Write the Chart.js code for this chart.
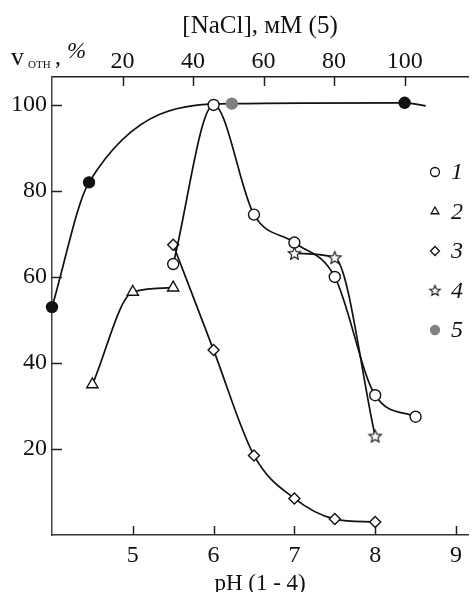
<!DOCTYPE html>
<html>
<head>
<meta charset="utf-8">
<script src="https://cdn.jsdelivr.net/npm/chart.js@4/dist/chart.umd.min.js"></script>
<style>
  body { margin: 0; background: #fff; }
  canvas { display: block; }
</style>
</head>
<body>
<canvas id="grafico" width="476" height="592"></canvas>
<script>
// curvas 1-4: pH (eje inferior)
const phCurva1 = [5.5, 6, 6.5, 7, 7.5, 8, 8.5];
const vCurva1  = [63, 100, 74.5, 68, 60, 32.5, 27.5];
const phCurva2 = [4.5, 5, 5.5];
const vCurva2  = [35, 56.5, 57.5];
const phCurva3 = [5.5, 6, 6.5, 7, 7.5, 8];
const vCurva3  = [67.5, 43, 18.5, 8.5, 3.7, 3];
const phCurva4 = [7, 7.5, 8];
const vCurva4  = [65.5, 64.5, 23];
// curva 5: [NaCl] mM (eje superior), el ultimo punto es solo el final de la linea
const naclCurva5 = [0, 10.5, 51, 100, 106];
const vCurva5    = [53, 82, 100.3, 100.5, 99.8];

const ticksPH   = [5, 6, 7, 8, 9];
const ticksNaCl = [20, 40, 60, 80, 100];
const ticksV    = [20, 40, 60, 80, 100];
const etiquetas = ['1', '2', '3', '4', '5'];

const fuente = "'Liberation Serif', 'DejaVu Serif', serif";
const negro = '#111';

function crearEstrella(r) {
  const c = document.createElement('canvas');
  const s = Math.ceil(r * 2 + 4);
  c.width = s;
  c.height = s;
  const g = c.getContext('2d');
  g.translate(s / 2, s / 2 + 0.5);
  g.beginPath();
  for (let i = 0; i < 10; i++) {
    const rad = i % 2 === 0 ? r : r * 0.45;
    const a = -Math.PI / 2 + i * Math.PI / 5;
    g.lineTo(rad * Math.cos(a), rad * Math.sin(a));
  }
  g.closePath();
  g.fillStyle = '#fff';
  g.fill();
  g.strokeStyle = negro;
  g.lineWidth = 1.1;
  g.stroke();
  return c;
}

const estrella = crearEstrella(6.5);
const estrellaChica = crearEstrella(5.5);

function serie(label, xs, ys, estilo, extra) {
  return Object.assign({
    label,
    data: xs.map((x, i) => ({ x, y: ys[i] })),
    borderColor: negro,
    borderWidth: 1.7,
    pointStyle: estilo,
    pointRadius: 5.5,
    pointBackgroundColor: '#fff',
    pointBorderColor: negro,
    pointBorderWidth: 1.4,
    cubicInterpolationMode: 'monotone',
    clip: false,
    xAxisID: 'x'
  }, extra || {});
}

const datasets = [
  serie(etiquetas[0], phCurva1, vCurva1, 'circle'),
  serie(etiquetas[1], phCurva2, vCurva2, 'triangle', { pointRadius: 6.5 }),
  serie(etiquetas[2], phCurva3, vCurva3, 'rectRot'),
  serie(etiquetas[3], phCurva4, vCurva4, estrella),
  serie(etiquetas[4], naclCurva5, vCurva5, 'circle', {
    xAxisID: 'x2',
    pointRadius: [5.5, 5.5, 5.5, 5.5, 0],
    pointBackgroundColor: [negro, negro, '#808080', negro, negro],
    pointBorderColor: [negro, negro, '#808080', negro, negro]
  })
];

// marcas hacia adentro, leyenda dentro del area y etiqueta del eje y
const extras = {
  id: 'extras',
  afterDraw(chart) {
    const ctx = chart.ctx;
    const area = chart.chartArea;
    const { x, x2, y } = chart.scales;
    ctx.save();
    ctx.strokeStyle = '#222';
    ctx.lineWidth = 1.5;
    ctx.beginPath();
    ticksPH.forEach(v => {
      const px = Math.round(x.getPixelForValue(v)) + 0.5;
      ctx.moveTo(px, area.bottom);
      ctx.lineTo(px, area.bottom - 9);
    });
    ticksNaCl.forEach(v => {
      const px = Math.round(x2.getPixelForValue(v)) + 0.5;
      ctx.moveTo(px, area.top);
      ctx.lineTo(px, area.top + 9);
    });
    ticksV.forEach(v => {
      const py = Math.round(y.getPixelForValue(v)) + 0.5;
      ctx.moveTo(area.left, py);
      ctx.lineTo(area.left + 10, py);
    });
    ctx.stroke();

    chart.data.datasets.forEach((ds, i) => {
      const ly = 172 + i * 39.5;
      const gris = i === 4;
      ctx.fillStyle = gris ? '#808080' : '#fff';
      ctx.strokeStyle = gris ? '#808080' : negro;
      ctx.lineWidth = 1.3;
      const estilo = i === 3 ? estrellaChica : ds.pointStyle;
      Chart.helpers.drawPoint(ctx, { pointStyle: estilo, radius: 4.5, borderWidth: 1.3, rotation: 0 }, 435, ly);
      ctx.fillStyle = negro;
      ctx.font = 'italic 24px ' + fuente;
      ctx.textAlign = 'left';
      ctx.textBaseline = 'middle';
      ctx.fillText(ds.label, 451, ly + 1);
    });

    ctx.fillStyle = negro;
    ctx.textAlign = 'left';
    ctx.textBaseline = 'alphabetic';
    ctx.font = '26px ' + fuente;
    ctx.fillText('v', 11, 65);
    ctx.font = '11px ' + fuente;
    ctx.fillText('ОТН', 28, 68);
    ctx.font = '24px ' + fuente;
    ctx.fillText(',', 55, 64);
    ctx.font = 'italic 23px ' + fuente;
    ctx.fillText('%', 67, 58);
    ctx.restore();
  }
};

const tickFont = { family: fuente, size: 24 };

new Chart(document.getElementById('grafico'), {
  type: 'line',
  data: { datasets },
  options: {
    responsive: false,
    animation: false,
    devicePixelRatio: 1,
    layout: { padding: 0 },
    plugins: { legend: { display: false }, tooltip: { enabled: false } },
    scales: {
      x: {
        type: 'linear',
        position: 'bottom',
        min: 4,
        max: 9.15,
        afterBuildTicks: s => { s.ticks = ticksPH.map(v => ({ value: v })); },
        afterFit: s => { s.height = 57; },
        grid: { drawOnChartArea: false, drawTicks: false },
        border: { color: '#333', width: 1.5 },
        ticks: { autoSkip: false, maxRotation: 0, padding: 6, color: negro, font: tickFont },
        title: { display: true, text: 'pH (1 - 4)', color: negro, font: { family: fuente, size: 23 }, padding: { top: 0, bottom: -6 } }
      },
      x2: {
        type: 'linear',
        axis: 'x',
        position: 'top',
        min: 0,
        max: 118,
        afterBuildTicks: s => { s.ticks = ticksNaCl.map(v => ({ value: v })); },
        afterFit: s => { s.height = 77; },
        grid: { drawOnChartArea: false, drawTicks: false },
        border: { color: '#222', width: 1.5 },
        ticks: { autoSkip: false, maxRotation: 0, padding: 1, color: negro, font: tickFont },
        title: { display: true, text: '[NaCl], мМ (5)', color: negro, font: { family: fuente, size: 25 }, padding: { top: 11, bottom: 0 } }
      },
      y: {
        type: 'linear',
        min: 0,
        max: 106.5,
        afterBuildTicks: s => { s.ticks = ticksV.map(v => ({ value: v })); },
        afterFit: s => { s.width = 52; },
        grid: { drawOnChartArea: false, drawTicks: false },
        border: { color: '#444', width: 1.5 },
        ticks: { autoSkip: false, padding: 5, color: negro, font: tickFont }
      }
    }
  },
  plugins: [extras]
});
</script>
</body>
</html>
